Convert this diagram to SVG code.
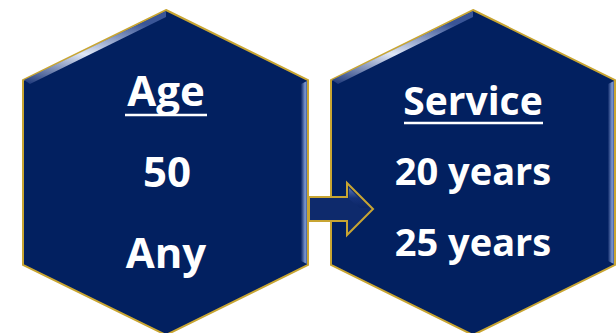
<svg xmlns="http://www.w3.org/2000/svg" width="616" height="333" viewBox="0 0 616 333">
  <defs>
    <linearGradient id="edgeR" x1="0" y1="0" x2="1" y2="0">
      <stop offset="0" stop-color="#0a2566"/>
      <stop offset="0.7" stop-color="#7f9bd2"/>
      <stop offset="1" stop-color="#3c5ca3"/>
    </linearGradient>
    <linearGradient id="edgeTL" x1="0" y1="1" x2="0.45" y2="0">
      <stop offset="0" stop-color="#1a3578"/>
      <stop offset="0.5" stop-color="#dfe7f7"/>
      <stop offset="1" stop-color="#3a5597"/>
    </linearGradient>
    <linearGradient id="headG" x1="0" y1="0" x2="0" y2="1">
      <stop offset="0" stop-color="#6d88c4"/>
      <stop offset="0.5" stop-color="#17337a"/>
      <stop offset="1" stop-color="#0a2566"/>
    </linearGradient>
  </defs>
  <style>
    .hex { fill: #022060; stroke: #c8a532; stroke-width: 2; stroke-linejoin: miter; }
    .t { font-family: "Open Sans", "Noto Sans", "Liberation Sans", sans-serif; font-weight: bold; fill: #ffffff; text-anchor: middle; }
    .ul { stroke: #ffffff; stroke-width: 2.5; }
    .arrow { fill: #0e2a6c; stroke: #c8a532; stroke-width: 2; stroke-linejoin: miter; }
  </style>
  <rect width="616" height="333" fill="#ffffff"/>

  <g id="node-age">
    <polygon class="hex" points="166,10 308,80 308,265 166,335 23,265 23,80"/>
    <polygon points="301,84 307,81 307,264 301,261" fill="url(#edgeR)"/>
    <polygon points="24,80 166,11 166,17 30,84" fill="url(#edgeTL)"/>
    <text class="t" x="166" y="106" font-size="42">Age</text>
    <line class="ul" x1="125" y1="115" x2="207" y2="115"/>
    <text class="t" x="167" y="187" font-size="42">50</text>
    <text class="t" x="166" y="268" font-size="42">Any</text>
  </g>

  <g id="node-service">
    <polygon class="hex" points="473,10 615,80 615,265 473,335 331,265 331,80"/>
    <polygon points="608,84 614,81 614,264 608,261" fill="url(#edgeR)"/>
    <polygon points="332,80 473,11 473,17 338,84" fill="url(#edgeTL)"/>
    <text class="t" x="473" y="115" font-size="39">Service</text>
    <line class="ul" x1="404" y1="123" x2="543" y2="123"/>
    <text class="t" x="473" y="185" font-size="38">20 years</text>
    <text class="t" x="473" y="256" font-size="38">25 years</text>
  </g>

  <g id="connectors">
    <polygon class="arrow" points="309,197 347,197 347,183 373,209 347,235 347,221 309,221"/>
    <polygon points="349,188 369,208 360,208 349,199" fill="url(#headG)" opacity="0.8"/>
  </g>
</svg>
